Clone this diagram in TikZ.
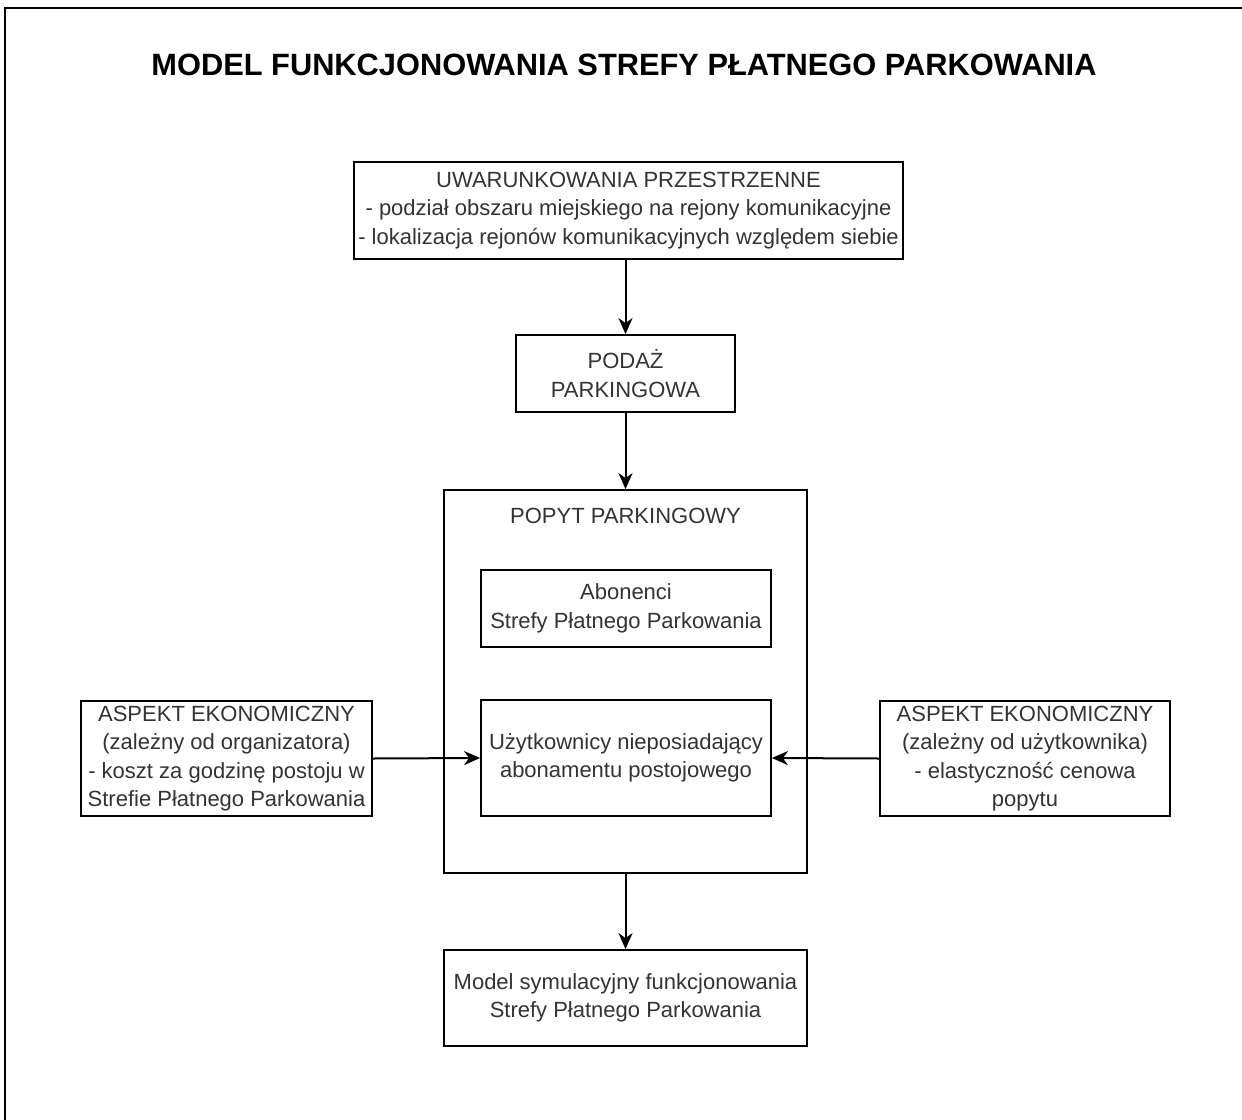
\documentclass[tikz,border=0pt]{standalone}
\usepackage{fontspec}
\setmainfont{Liberation Sans}
\usetikzlibrary{arrows.meta}
\definecolor{txtgray}{HTML}{333333}
\tikzset{
  box/.style={draw=black, line width=1.8pt, fill=white, text=txtgray, align=center,
    inner sep=0pt, font=\fontsize{22}{28.5}\selectfont},
  conn/.style={draw=black, line width=2pt, -{Stealth[length=16pt,width=14pt,inset=5pt]}}
}
\begin{document}
\begin{tikzpicture}[x=1pt,y=-1pt]
\useasboundingbox[fill=white] (0,0) rectangle (1242,1119);
% outer frame (cropped on right and bottom)
\draw[line width=2.4pt] (5,1130) -- (5,8) -- (1250,8);
% title
\node[font=\fontsize{30.8}{36}\selectfont\bfseries, text=black] (title) at (624,65) {MODEL FUNKCJONOWANIA STREFY PŁATNEGO PARKOWANIA};
% nodes
\node[box, minimum width=549pt, minimum height=97pt] (top) at (628.5,210.5)
  {UWARUNKOWANIA PRZESTRZENNE\\- podział obszaru miejskiego na rejony komunikacyjne\\- lokalizacja rejonów komunikacyjnych względem siebie};
\node[box, minimum width=219pt, minimum height=77pt] (podaz) at (625.5,373.5) {PODAŻ\\PARKINGOWA};
\node[box, minimum width=363pt, minimum height=383pt] (popyt) at (625.5,681.5) {};
\node[text=txtgray, font=\fontsize{22}{28.5}\selectfont, inner sep=0pt] (popytlbl) at (625.5,516) {POPYT PARKINGOWY};
\node[box, minimum width=290pt, minimum height=77pt] (abon) at (626,608.5) {Abonenci\\Strefy Płatnego Parkowania};
\node[box, minimum width=290pt, minimum height=116pt] (uzyt) at (626,758) {Użytkownicy nieposiadający\\abonamentu postojowego};
\node[box, minimum width=291pt, minimum height=115pt] (left) at (226.5,758.5)
  {ASPEKT EKONOMICZNY\\(zależny od organizatora)\\- koszt za godzinę postoju w\\Strefie Płatnego Parkowania};
\node[box, minimum width=290pt, minimum height=115pt] (right) at (1025,758.5)
  {ASPEKT EKONOMICZNY\\(zależny od użytkownika)\\- elastyczność cenowa\\popytu};
\node[box, minimum width=363pt, minimum height=96pt] (model) at (625.5,998)
  {Model symulacyjny funkcjonowania\\Strefy Płatnego Parkowania};
% connectors
\draw[conn] (top.south -| podaz.north) -- (podaz.north);
\draw[conn] (podaz.south) -- (popyt.north);
\draw[conn] (left.east) -- (uzyt.west);
\draw[conn] (right.west) -- (uzyt.east);
\draw[conn] (popyt.south) -- (model.north);
\end{tikzpicture}
\end{document}
